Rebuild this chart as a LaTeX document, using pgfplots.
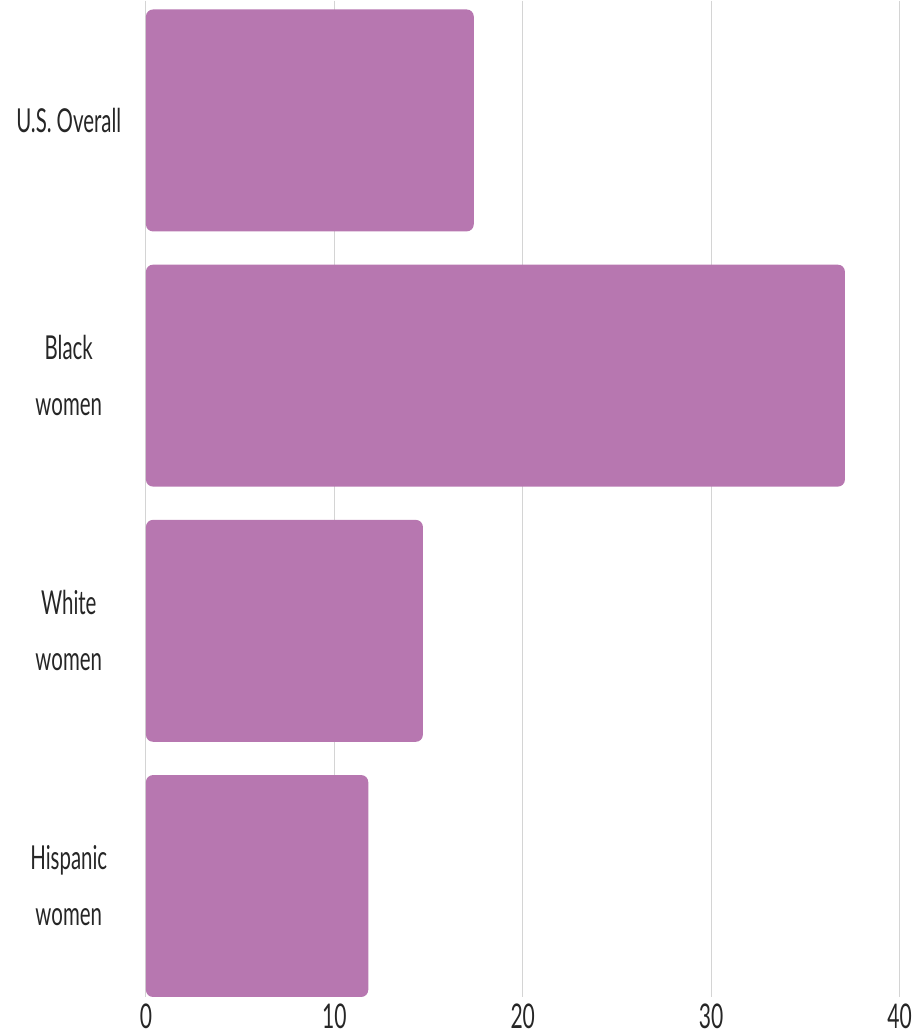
\documentclass[border=0pt]{standalone}
\usepackage{pgfplots}
\pgfplotsset{compat=1.18}
\usepackage{fontspec}
\setmainfont[FakeStretch=0.62]{Lato}
\usetikzlibrary{calc}
\definecolor{barc}{HTML}{B777B0}
\definecolor{gridc}{HTML}{D4D4D4}
\begin{document}
\begin{tikzpicture}
\begin{axis}[
  scale only axis,
  width=754pt, height=997pt,
  xbar, bar width=222pt,
  xmin=0, xmax=40,
  ymin=-0.47, ymax=3.435,
  y dir=reverse,
  xtick={0,10,20,30,40},
  ytick={0,1,2,3},
  yticklabels={U.S.\hspace{5pt}Overall, Black\\women, White\\women, Hispanic\\women},
  yticklabel style={align=center, text width=124pt, inner sep=0pt, font=\fontsize{33}{56}\selectfont, text=black!85},
  xticklabel style={font=\fontsize{34}{38}\selectfont, text=black!85, inner sep=0pt, anchor=north},
  /pgf/number format/assume math mode=true,
  major tick length=0pt,
  xmajorgrids, grid style={gridc, line width=1pt},
  axis line style={draw=none},
  clip=false,
  xticklabel shift=7pt,
  yticklabel shift=15pt,
]
\addplot[fill=barc, draw=none, rounded corners=7pt] coordinates {(17.4,0) (37.1,1) (14.7,2) (11.8,3)};
\end{axis}
\path[use as bounding box] ($(current axis.south west)+(-146pt,-39pt)$) rectangle ($(current axis.north east)+(15pt,0pt)$);
\end{tikzpicture}
\end{document}
